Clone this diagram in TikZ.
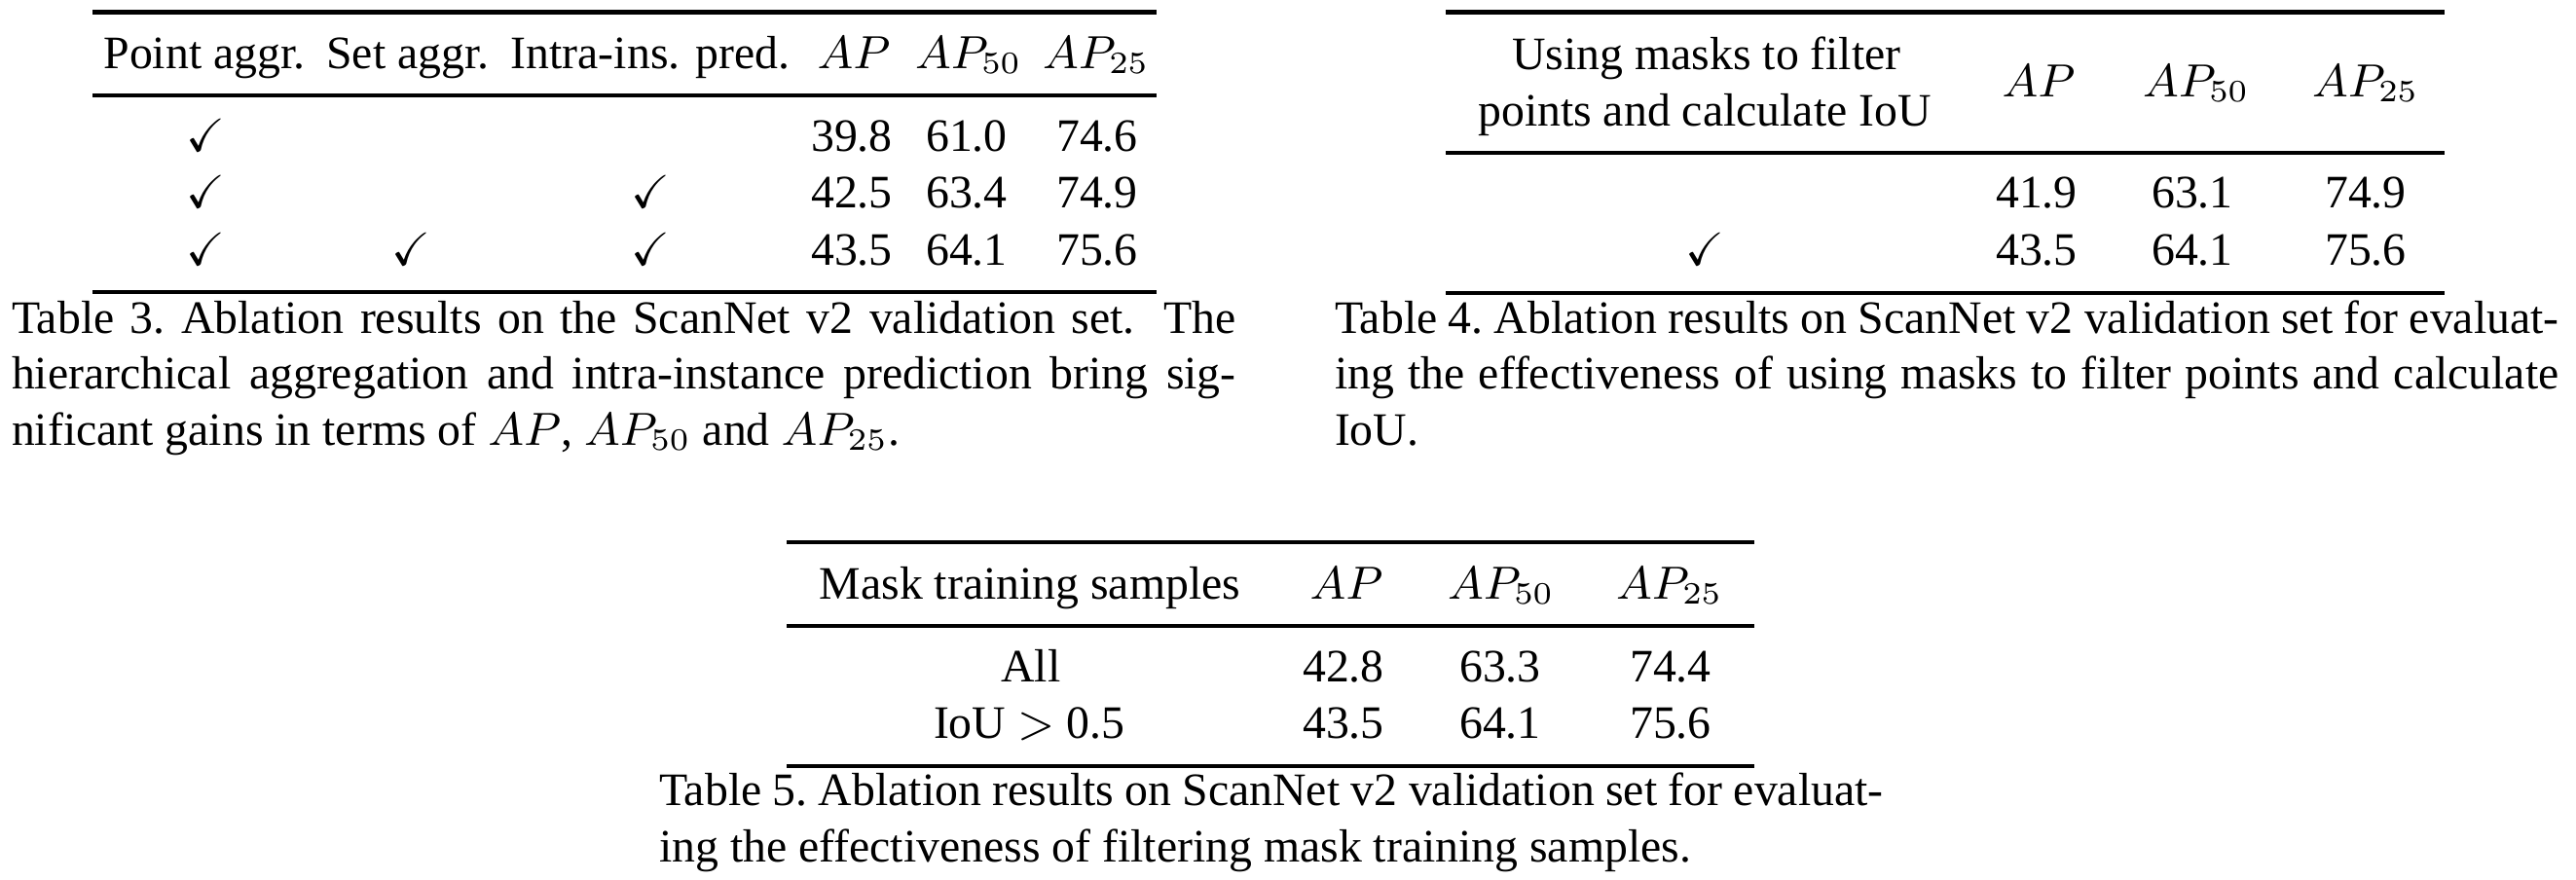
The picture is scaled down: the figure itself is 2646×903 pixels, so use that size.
\documentclass[tikz,border=0pt]{standalone}
\usepackage{amssymb}
\usepackage{fontspec}
\setmainfont{Liberation Serif}
\begin{document}
\begin{tikzpicture}[x=0.18847pt,y=-0.18847pt]
\tikzstyle{every node}=[inner sep=0pt,anchor=base,font=\fontsize{9}{11}\selectfont]
\tikzstyle{rule}=[line width=0.8pt]
\useasboundingbox (0,0) rectangle (2646,903);
% Table 3
\draw[rule] (95,12.5) -- (1188,12.5);
\draw[rule] (95,98) -- (1188,98);
\draw[rule] (95,300) -- (1188,300);
\node(h30) at (210,70) {Point aggr.};
\node(h31) at (419,70) {Set aggr.};
\node(h32) at (668,70) {Intra-ins. pred.};
\node(h33) at (877,70) {$AP$};
\node(h34) at (995,70) {$AP_{50}$};
\node(h35) at (1126,70) {$AP_{25}$};
\node(a10) at (211,155) {$\checkmark$};
\node(a13) at (875,155) {39.8};
\node(a14) at (993,155) {61.0};
\node(a15) at (1127,155) {74.6};
\node(a20) at (211,213) {$\checkmark$};
\node(a22) at (668,213) {$\checkmark$};
\node(a23) at (875,213) {42.5};
\node(a24) at (993,213) {63.4};
\node(a25) at (1127,213) {74.9};
\node(a30) at (211,272) {$\checkmark$};
\node(a31) at (422,272) {$\checkmark$};
\node(a32) at (668,272) {$\checkmark$};
\node(a33) at (875,272) {43.5};
\node(a34) at (993,272) {64.1};
\node(a35) at (1127,272) {75.6};
\node[anchor=base west](c31) at (11,342) {\makebox[237pt][s]{Table 3.\ Ablation results on the ScanNet v2 validation set.  The}};
\node[anchor=base west](c32) at (11,399) {\makebox[237pt][s]{hierarchical aggregation and intra-instance prediction bring sig-}};
\node[anchor=base west](c33) at (11,457) {nificant gains in terms of $AP$, $AP_{50}$ and $AP_{25}$.};
% Table 4
\draw[rule] (1485,12.5) -- (2511,12.5);
\draw[rule] (1485,157) -- (2511,157);
\draw[rule] (1485,301) -- (2511,301);
\node(h40) at (1753,71) {Using masks to filter};
\node(h40b) at (1751,129) {points and calculate IoU};
\node(h41) at (2094,99) {$AP$};
\node(h42) at (2256,99) {$AP_{50}$};
\node(h43) at (2430,99) {$AP_{25}$};
\node(b11) at (2092,213) {41.9};
\node(b12) at (2252,213) {63.1};
\node(b13) at (2430,213) {74.9};
\node(b20) at (1751,272) {$\checkmark$};
\node(b21) at (2092,272) {43.5};
\node(b22) at (2252,272) {64.1};
\node(b23) at (2430,272) {75.6};
\node[anchor=base west](c41) at (1370,342) {\makebox[237pt][s]{Table 4.\ Ablation results on ScanNet v2 validation set for evaluat-}};
\node[anchor=base west](c42) at (1370,399) {\makebox[237pt][s]{ing the effectiveness of using masks to filter points and calculate}};
\node[anchor=base west](c43) at (1370,457) {IoU.};
% Table 5
\draw[rule] (808,557) -- (1802,557);
\draw[rule] (808,643) -- (1802,643);
\draw[rule] (808,787) -- (1802,787);
\node(h50) at (1058,615) {Mask training samples};
\node(h51) at (1383,615) {$AP$};
\node(h52) at (1542,615) {$AP_{50}$};
\node(h53) at (1715,615) {$AP_{25}$};
\node(d10) at (1059,700) {All};
\node(d11) at (1380,700) {42.8};
\node(d12) at (1541,700) {63.3};
\node(d13) at (1716,700) {74.4};
\node(d20) at (1057,758) {IoU $>$ 0.5};
\node(d21) at (1380,758) {43.5};
\node(d22) at (1541,758) {64.1};
\node(d23) at (1716,758) {75.6};
\node[anchor=base west](c51) at (676,827) {\makebox[237pt][s]{Table 5.\ Ablation results on ScanNet v2 validation set for evaluat-}};
\node[anchor=base west](c52) at (676,885) {ing the effectiveness of filtering mask training samples.};
\end{tikzpicture}
\end{document}
